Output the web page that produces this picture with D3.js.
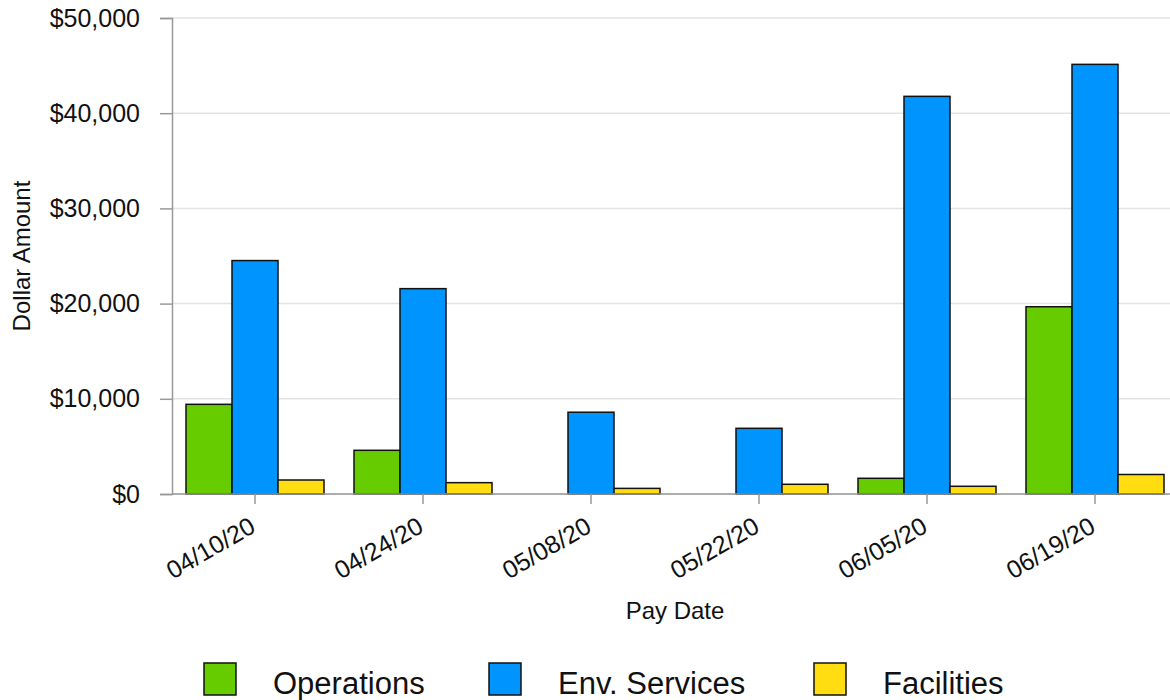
<!DOCTYPE html>
<html><head><meta charset="utf-8">
<script src="https://cdn.jsdelivr.net/npm/d3@7"></script>
<style>
html,body{margin:0;padding:0;background:#fff;}
svg{display:block;font-family:"Liberation Sans",Arial,sans-serif;}
</style></head>
<body>
<svg id="chart" width="1170" height="700"></svg>
<script>
const categories = ["04/10/20","04/24/20","05/08/20","05/22/20","06/05/20","06/19/20"];
const seriesNames = ["Operations","Env. Services","Facilities"];
const operations = [9420, 4590, 0, 0, 1650, 19670];
const envServices = [24520, 21570, 8590, 6900, 41770, 45130];
const facilities = [1470, 1190, 590, 1020, 810, 2050];
const yTicks = [0, 10000, 20000, 30000, 40000, 50000];
const colors = ["#66CC00", "#0094FF", "#FFDD11"];

const seriesValues = [operations, envServices, facilities];
const svg = d3.select("#chart");

const y = d3.scaleLinear().domain([0, 50000]).range([494, 18]);
const x0 = d3.scaleBand().domain(categories).range([171, 1179])
  .paddingInner(30/168).paddingOuter(15/168);
const x1 = d3.scaleBand().domain(seriesNames).range([0, x0.bandwidth()]);

// gridlines
svg.append("g").selectAll("line").data(yTicks).join("line")
  .attr("x1", 172).attr("x2", 1170)
  .attr("y1", d => y(d)).attr("y2", d => y(d))
  .attr("stroke", "#e3e3e3").attr("stroke-width", 1.5);

// y axis
const yAxis = svg.append("g").attr("transform", "translate(172,0)")
  .call(d3.axisLeft(y).tickValues(yTicks).tickSize(12).tickPadding(20)
    .tickFormat(d => "$" + d3.format(",")(d)));
yAxis.select(".domain").attr("stroke", "#999").attr("stroke-width", 1.5);
yAxis.selectAll(".tick line").attr("stroke", "#999").attr("stroke-width", 1.5);
yAxis.selectAll("text").attr("font-size", 25).attr("fill", "#111")
  .attr("font-family", "Liberation Sans, Arial, sans-serif");

// bars
const groups = svg.append("g").selectAll("g").data(categories).join("g")
  .attr("transform", c => `translate(${x0(c)},0)`);
groups.selectAll("rect").data((c, i) => seriesNames.map((s, k) => ({s, k, v: seriesValues[k][i]})))
  .join("rect")
  .filter(d => d.v > 0)
  .attr("x", d => x1(d.s)).attr("width", x1.bandwidth())
  .attr("y", d => y(d.v)).attr("height", d => y(0) - y(d.v))
  .attr("fill", d => colors[d.k]).attr("stroke", "#111").attr("stroke-width", 1.5);

// x axis
const xAxisScale = d3.scaleBand().domain(categories).range([171, 1179]);
const xAxis = svg.append("g").attr("transform", "translate(0,494)")
  .call(d3.axisBottom(xAxisScale).tickSize(10).tickSizeOuter(0).tickFormat(""));
xAxis.select(".domain").attr("stroke", "#999").attr("stroke-width", 1.5)
  .attr("d", "M172,0H1170");
xAxis.selectAll(".tick line").attr("stroke", "#999").attr("stroke-width", 1.5);
xAxis.selectAll(".tick").append("text")
  .text(d => d)
  .attr("text-anchor", "end")
  .attr("fill", "#111").attr("font-size", 25)
  .attr("transform", "translate(2,37) rotate(-30)");

// axis titles
svg.append("text").attr("x", 675).attr("y", 619).attr("text-anchor", "middle")
  .attr("font-size", 24).attr("fill", "#111").text("Pay Date");
svg.append("text").attr("transform", "translate(30,256) rotate(-90)")
  .attr("text-anchor", "middle").attr("font-size", 24).attr("fill", "#111").text("Dollar Amount");

// legend
const legendX = [204, 489, 814];
const legend = svg.append("g").selectAll("g").data(seriesNames).join("g")
  .attr("transform", (d, i) => `translate(${legendX[i]},663)`);
legend.append("rect").attr("width", 32).attr("height", 32)
  .attr("fill", (d, i) => colors[i]).attr("stroke", "#111").attr("stroke-width", 1.5);
legend.append("text").attr("x", 69).attr("y", 31).attr("font-size", 31)
  .attr("fill", "#111").text(d => d);
</script>
</body></html>
